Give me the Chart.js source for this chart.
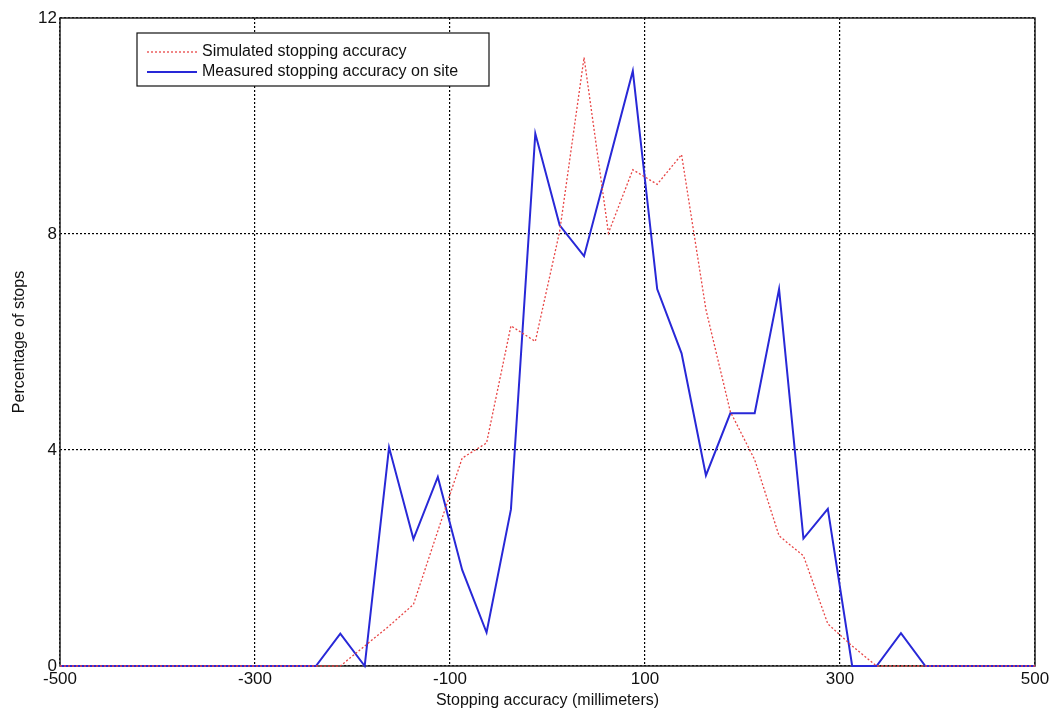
<!DOCTYPE html>
<html>
<head>
<meta charset="utf-8">
<script src="https://cdn.jsdelivr.net/npm/chart.js@4"></script>
<style>
  body { margin: 0; background: #fff; }
  #wrap { width: 1056px; height: 710px; }
</style>
</head>
<body>
<div id="wrap"><canvas id="chart" width="1056" height="710"></canvas></div>
<script>
// bin centres (millimetres), with the plot edges as end points
const accuracy = [
  -500, -487.5, -462.5, -437.5, -412.5, -387.5, -362.5, -337.5, -312.5, -287.5, -262.5,
  -237.5, -212.5, -187.5, -162.5, -137.5, -112.5, -87.5, -62.5, -37.5, -12.5,
  12.5, 37.5, 62.5, 87.5, 112.5, 137.5, 162.5, 187.5, 212.5, 237.5,
  262.5, 287.5, 312.5, 337.5, 362.5, 387.5, 412.5, 437.5, 462.5, 487.5, 500
];
const simulated = [
  0, 0, 0, 0, 0, 0, 0, 0, 0, 0, 0,
  0, 0, 0.37, 0.74, 1.14, 2.5, 3.85, 4.13, 6.3, 6.01,
  8.05, 11.27, 8.02, 9.19, 8.92, 9.47, 6.6, 4.71, 3.82, 2.41,
  2.04, 0.78, 0.37, 0, 0, 0, 0, 0, 0, 0, 0
];
const measured = [
  0, 0, 0, 0, 0, 0, 0, 0, 0, 0, 0,
  0, 0.6, 0, 4.05, 2.35, 3.5, 1.78, 0.62, 2.9, 9.86,
  8.16, 7.59, 9.3, 11.02, 6.98, 5.79, 3.53, 4.68, 4.68, 6.98,
  2.36, 2.91, 0, 0, 0.61, 0, 0, 0, 0, 0, 0
];
const xTicks = [-500, -300, -100, 100, 300, 500];
const yTicks = [0, 4, 8, 12];

const FONT = "'Liberation Sans', Arial, sans-serif";

// black box round the plot, like the matlab axes
const frame = {
  id: "frame",
  beforeDatasetsDraw(chart) {
    const { ctx, chartArea: a } = chart;
    ctx.save();
    ctx.strokeStyle = "#222";
    ctx.lineWidth = 1.5;
    ctx.strokeRect(a.left, a.top, a.right - a.left, a.bottom - a.top);
    ctx.restore();
  }
};

// legend box inside the plot, top left
const boxLegend = {
  id: "boxLegend",
  afterDraw(chart) {
    const { ctx } = chart;
    const x = 137, y = 33, w = 352, h = 53;
    ctx.save();
    ctx.fillStyle = "#fff";
    ctx.fillRect(x, y, w, h);
    ctx.strokeStyle = "#111";
    ctx.lineWidth = 1.2;
    ctx.strokeRect(x, y, w, h);
    ctx.font = "16px " + FONT;
    ctx.textBaseline = "middle";
    chart.data.datasets.forEach((ds, i) => {
      const ly = y + 19 + i * 20;
      ctx.beginPath();
      ctx.strokeStyle = ds.borderColor;
      ctx.lineWidth = ds.borderWidth;
      ctx.setLineDash(ds.borderDash || []);
      ctx.moveTo(x + 10, ly);
      ctx.lineTo(x + 60, ly);
      ctx.stroke();
      ctx.setLineDash([]);
      ctx.fillStyle = "#111";
      ctx.fillText(ds.label, x + 65, ly);
    });
    ctx.restore();
  }
};

new Chart(document.getElementById("chart"), {
  type: "line",
  data: {
    datasets: [
      {
        label: "Simulated stopping accuracy",
        data: accuracy.map((v, i) => ({ x: v, y: simulated[i] })),
        borderColor: "rgb(232,70,70)",
        borderWidth: 1.3,
        borderDash: [2, 2],
        pointRadius: 0,
        tension: 0,
        clip: 3
      },
      {
        label: "Measured stopping accuracy on site",
        data: accuracy.map((v, i) => ({ x: v, y: measured[i] })),
        borderColor: "rgb(40,40,215)",
        borderWidth: 2,
        pointRadius: 0,
        tension: 0,
        clip: 3
      }
    ]
  },
  options: {
    responsive: false,
    animation: false,
    layout: { padding: { top: 18, right: 21, left: 0, bottom: 0 } },
    plugins: {
      legend: { display: false },
      tooltip: { enabled: false }
    },
    scales: {
      x: {
        type: "linear",
        min: -500,
        max: 500,
        afterBuildTicks: (s) => { s.ticks = xTicks.map((v) => ({ value: v })); },
        afterFit: (s) => { s.height = 44; },
        grid: { color: "#000", lineWidth: 1.2, drawTicks: false },
        border: { display: false, dash: [2, 2] },
        ticks: { color: "#111", padding: 3, font: { family: FONT, size: 17 } },
        title: {
          display: true,
          text: "Stopping accuracy (millimeters)",
          color: "#111",
          padding: { top: 0, bottom: 0 },
          font: { family: FONT, size: 16 }
        }
      },
      y: {
        type: "linear",
        min: 0,
        max: 12,
        afterBuildTicks: (s) => { s.ticks = yTicks.map((v) => ({ value: v })); },
        afterFit: (s) => { s.width = 60; },
        grid: { color: "#000", lineWidth: 1.2, drawTicks: false },
        border: { display: false, dash: [2, 2] },
        ticks: { color: "#111", padding: 3, font: { family: FONT, size: 17 } },
        title: {
          display: true,
          text: "Percentage of stops",
          color: "#111",
          padding: { top: 10, bottom: 0 },
          font: { family: FONT, size: 16 }
        }
      }
    }
  },
  plugins: [frame, boxLegend]
});
</script>
</body>
</html>
